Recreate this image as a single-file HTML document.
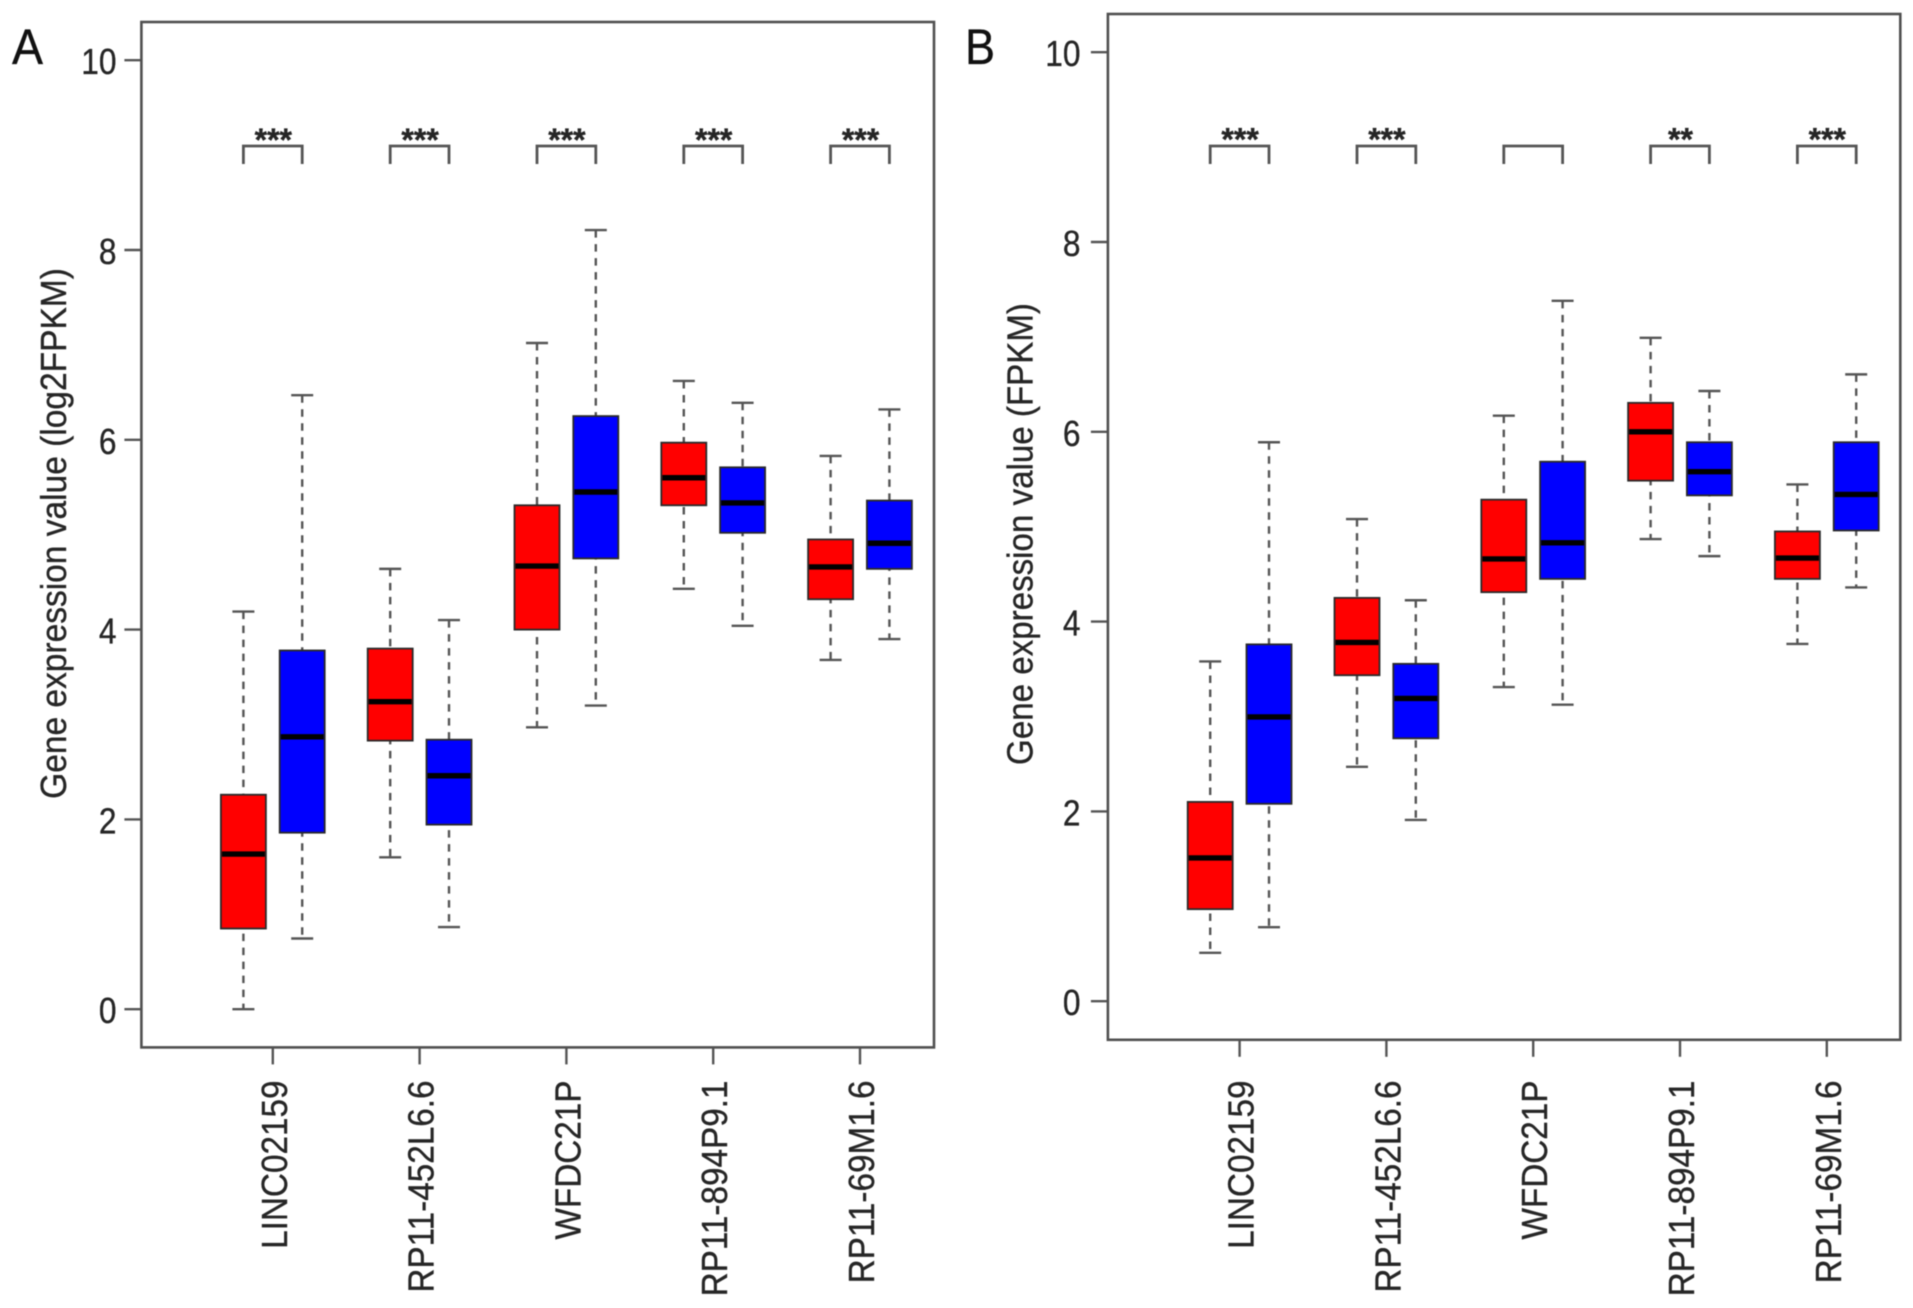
<!DOCTYPE html>
<html lang="en">
<head>
<meta charset="utf-8">
<title>Gene expression boxplots</title>
<style>
html,body{margin:0;padding:0;background:#fff;width:1913px;height:1308px;overflow:hidden}
svg{display:block;filter:blur(0.5px)}
text{font-family:"Liberation Sans",Arial,sans-serif;fill:#262626;stroke:#262626;stroke-width:0.35px}
</style>
</head>
<body>
<svg id="figure" xmlns="http://www.w3.org/2000/svg" width="1913" height="1308" viewBox="0 0 1913 1308">
  <rect x="0" y="0" width="1913" height="1308" fill="#fff"/>
  <text font-size="50" transform="translate(12 64) scale(0.93 1)" style="fill:#111;stroke:#111">A</text>
  <text font-size="50" transform="translate(965 64) scale(0.9 1)" style="fill:#111;stroke:#111">B</text>
  <text font-size="36" text-anchor="middle" transform="translate(66 533.5) rotate(-90) scale(0.931 1)">Gene expression value (log2FPKM)</text>
  <text font-size="36" text-anchor="middle" transform="translate(1032.5 534) rotate(-90) scale(0.92 1)">Gene expression value (FPKM)</text>
  <g id="panelA"></g>
  <g id="panelB"></g>
</svg>
<script>
// ---------- shared data ----------
const categories = ['LINC02159', 'RP11-452L6.6', 'WFDC21P', 'RP11-894P9.1', 'RP11-69M1.6'];
const yTicks = [0, 2, 4, 6, 8, 10];

// ---------- panel A values (log2FPKM) ----------
const aRedLow  = [0.00, 1.60, 2.97, 4.43, 3.68];
const aRedQ1   = [0.85, 2.83, 4.00, 5.31, 4.32];
const aRedMed  = [1.635, 3.24, 4.67, 5.60, 4.66];
const aRedQ3   = [2.26, 3.80, 5.31, 5.97, 4.95];
const aRedHigh = [4.19, 4.64, 7.02, 6.62, 5.83];
const aBlueLow  = [0.745, 0.865, 3.20, 4.04, 3.90];
const aBlueQ1   = [1.86, 1.945, 4.75, 5.02, 4.64];
const aBlueMed  = [2.87, 2.46, 5.45, 5.335, 4.91];
const aBlueQ3   = [3.78, 2.84, 6.25, 5.71, 5.36];
const aBlueHigh = [6.47, 4.10, 8.21, 6.39, 6.32];
const aSignificance = ['***', '***', '***', '***', '***'];

// ---------- panel B values (FPKM) ----------
const bRedLow  = [0.51, 2.47, 3.31, 4.87, 3.765];
const bRedQ1   = [0.97, 3.435, 4.31, 5.485, 4.45];
const bRedMed  = [1.51, 3.78, 4.66, 6.00, 4.67];
const bRedQ3   = [2.10, 4.25, 5.285, 6.305, 4.95];
const bRedHigh = [3.58, 5.08, 6.17, 6.99, 5.445];
const bBlueLow  = [0.78, 1.91, 3.125, 4.69, 4.36];
const bBlueQ1   = [2.08, 2.77, 4.45, 5.33, 4.96];
const bBlueMed  = [2.995, 3.19, 4.83, 5.58, 5.34];
const bBlueQ3   = [3.76, 3.555, 5.685, 5.89, 5.89];
const bBlueHigh = [5.89, 4.225, 7.38, 6.43, 6.605];
const bSignificance = ['***', '***', '', '**', '***'];

const NS = 'http://www.w3.org/2000/svg';

function make(parent, tag, attrs, txt) {
  const node = document.createElementNS(NS, tag);
  for (const k in attrs) node.setAttribute(k, attrs[k]);
  if (txt !== undefined) node.textContent = txt;
  parent.appendChild(node);
  return node;
}

function drawPanel(root, frame, red, blue, significance) {
  const yScale = v => frame.zeroY - v * frame.unit;
  const xScale = i => frame.firstTick + i * frame.step;
  const FRAME = '#505050', LINE = '#555';

  // y axis
  yTicks.forEach(function (t) {
    const tick = make(root, 'line', {x1: frame.left - 17, x2: frame.left, y1: yScale(t), y2: yScale(t), stroke: LINE, 'stroke-width': 2.4});
    
    
    const label = make(root, 'text', {'font-size': 36, 'text-anchor': 'end', transform: 'translate(' + frame.tickLabelX + ' ' + (yScale(t) + 14) + ') scale(0.88 1)'}, String(t));
    
    
  });

  categories.forEach(function (name, i) {
    const cx = xScale(i);
    const tick = make(root, 'line', {x1: cx, x2: cx, y1: frame.bottom, y2: frame.bottom + 17, stroke: LINE, 'stroke-width': 2.4});
    
    
    const label = make(root, 'text', {'font-size': 36, 'text-anchor': 'end', transform: 'translate(' + (cx + 14) + ' 1080.5) rotate(-90) scale(0.925 1)'}, name);
    
    

    // significance bracket
    const bx1 = cx - frame.offset, bx2 = cx + frame.offset;
    const bracket = make(root, 'path', {d: 'M' + bx1 + ' ' + frame.bracketBottom + 'V' + frame.bracketTop + 'H' + bx2 + 'V' + frame.bracketBottom, fill: 'none', stroke: LINE, 'stroke-width': 2.8});
    
    
    if (significance[i]) {
      const stars = make(root, 'text', {x: cx + 0.5, y: frame.starY, 'font-size': 32, 'font-weight': 'bold', 'text-anchor': 'middle'}, significance[i]);
      
      
    }

    // the two boxes of this category
    [[red, -1, '#ff0000', 'red'], [blue, 1, '#0000ff', 'blue']].forEach(function (cfg) {
      const s = cfg[0], c = cx + cfg[1] * frame.offset, half = frame.boxWidth / 2, cap = frame.capWidth / 2;
      const whisker = make(root, 'line', {x1: c, x2: c, y1: yScale(s.high[i]), y2: yScale(s.low[i]), stroke: LINE, 'stroke-width': 2.4, 'stroke-dasharray': '7.5 6.5'});
      
      
      [s.high[i], s.low[i]].forEach(function (v) {
        const capLine = make(root, 'line', {x1: c - cap, x2: c + cap, y1: yScale(v), y2: yScale(v), stroke: LINE, 'stroke-width': 2.4});
        
        
      });
      const box = make(root, 'rect', {x: c - half, y: yScale(s.q3[i]), width: frame.boxWidth, height: yScale(s.q1[i]) - yScale(s.q3[i]), fill: cfg[2], stroke: '#2a2a2a', 'stroke-width': 1.8});
      
      
      const median = make(root, 'line', {x1: c - half + 1, x2: c + half - 1, y1: yScale(s.med[i]), y2: yScale(s.med[i]), stroke: '#000', 'stroke-width': 5.4});
      
      
    });
  });

  const border = make(root, 'rect', {x: frame.left, y: frame.top, width: frame.right - frame.left, height: frame.bottom - frame.top, fill: 'none', stroke: FRAME, 'stroke-width': 2.6});
  
  
}

drawPanel(document.getElementById('panelA'),
  {left: 141.4, right: 934, top: 22, bottom: 1047.4, zeroY: 1009.2, unit: 94.9, firstTick: 272.8, step: 146.8, offset: 29.4, boxWidth: 45, capWidth: 22, tickLabelX: 116.5, bracketTop: 146, bracketBottom: 164, starY: 151},
  {low: aRedLow, q1: aRedQ1, med: aRedMed, q3: aRedQ3, high: aRedHigh},
  {low: aBlueLow, q1: aBlueQ1, med: aBlueMed, q3: aBlueQ3, high: aBlueHigh},
  aSignificance);

drawPanel(document.getElementById('panelB'),
  {left: 1107.9, right: 1900.3, top: 14, bottom: 1039.8, zeroY: 1001.2, unit: 94.9, firstTick: 1239.6, step: 146.8, offset: 29.4, boxWidth: 45, capWidth: 22, tickLabelX: 1080.5, bracketTop: 146, bracketBottom: 164, starY: 150.5},
  {low: bRedLow, q1: bRedQ1, med: bRedMed, q3: bRedQ3, high: bRedHigh},
  {low: bBlueLow, q1: bBlueQ1, med: bBlueMed, q3: bBlueQ3, high: bBlueHigh},
  bSignificance);
</script>
</body>
</html>
